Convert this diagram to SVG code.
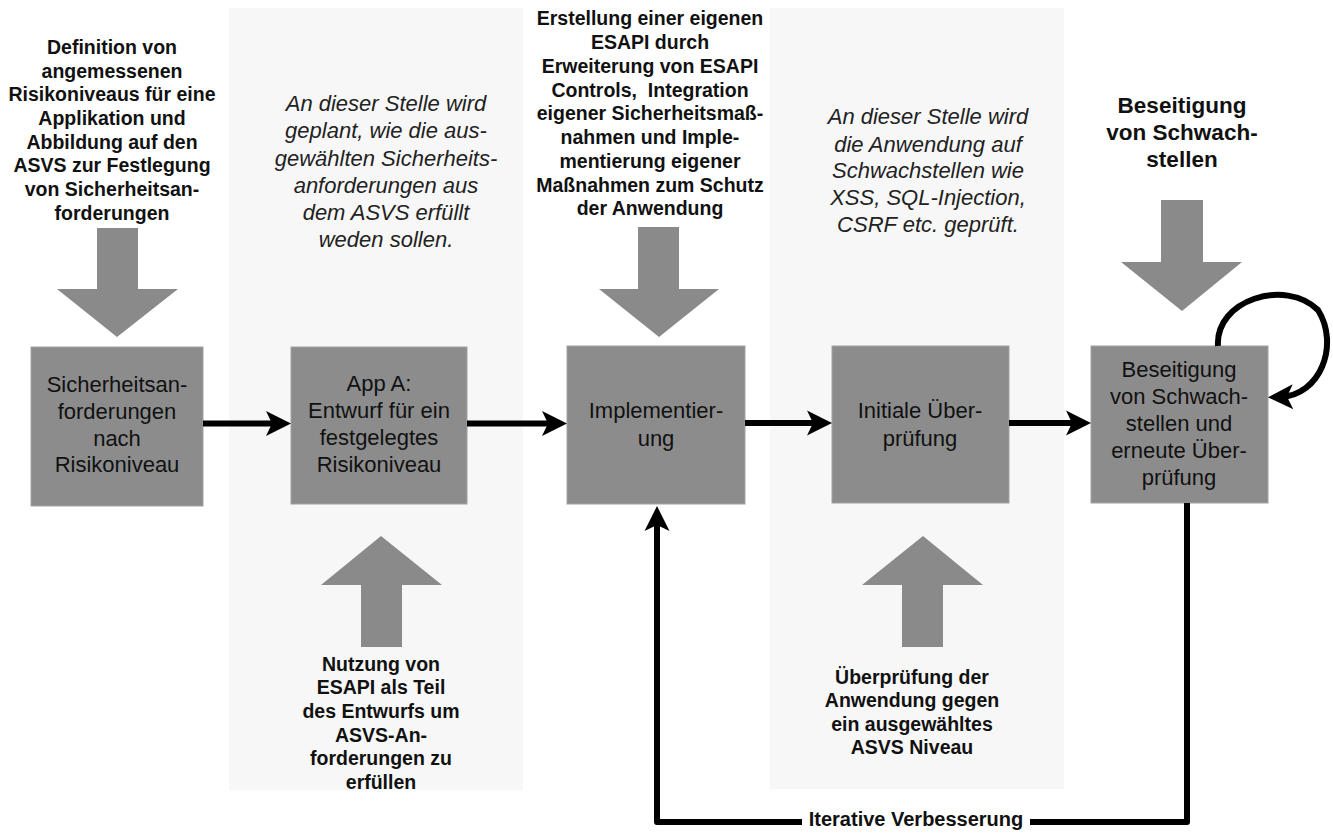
<svg xmlns="http://www.w3.org/2000/svg" width="1333" height="834" viewBox="0 0 1333 834">
<defs>
<style>
.panel{fill:#f7f7f7}
.box{fill:#8c8c8c;stroke:#a2a2a2;stroke-width:1}
.blk{fill:#8a8a8a}
.bt{font-family:"Liberation Sans",Arial,sans-serif;font-weight:bold;font-size:19.5px;fill:#111;text-anchor:middle}
.bt2{font-family:"Liberation Sans",Arial,sans-serif;font-weight:bold;font-size:22.5px;fill:#111;text-anchor:middle}
.it{font-family:"Liberation Sans",Arial,sans-serif;font-style:italic;font-size:22px;fill:#222;text-anchor:middle}
.nt{font-family:"Liberation Sans",Arial,sans-serif;font-size:22px;fill:#111;text-anchor:middle}
.con{fill:none;stroke:#000;stroke-width:6;stroke-linejoin:round}
</style>
<marker id="ah" markerUnits="userSpaceOnUse" markerWidth="40" markerHeight="40" viewBox="-20 -20 40 40" refX="0" refY="0" orient="auto">
<path d="M12,0 L-13,-12.5 L-7,0 L-13,12.5 Z" fill="#000"/>
</marker>
</defs>
<rect width="1333" height="834" fill="#fff"/>
<rect class="panel" x="229" y="8" width="294" height="782"/>
<rect class="panel" x="770" y="8" width="294" height="781"/>

<g id="note-definition">
<text class="bt" x="112"><tspan x="112" y="54">Definition von</tspan><tspan x="112" y="78">angemessenen</tspan><tspan x="112" y="101">Risikoniveaus für eine</tspan><tspan x="112" y="125">Applikation und</tspan><tspan x="112" y="149">Abbildung auf den</tspan><tspan x="112" y="172">ASVS zur Festlegung</tspan><tspan x="112" y="196">von Sicherheitsan-</tspan><tspan x="112" y="220">forderungen</tspan></text>
<path class="blk" d="M97,228 H138 V289 H178 L117,337 L57,289 H97 Z"/>
</g>
<g id="note-planung">
<text class="it"><tspan x="386" y="111">An dieser Stelle wird</tspan><tspan x="386" y="138">geplant, wie die aus-</tspan><tspan x="386" y="166">gewählten Sicherheits-</tspan><tspan x="386" y="193">anforderungen aus</tspan><tspan x="386" y="220">dem ASVS erfüllt</tspan><tspan x="386" y="247">weden sollen.</tspan></text>
</g>
<g id="note-esapi-eigen">
<text class="bt"><tspan x="650" y="25">Erstellung einer eigenen</tspan><tspan x="650" y="49">ESAPI durch</tspan><tspan x="650" y="73">Erweiterung von ESAPI</tspan><tspan x="650" y="97">Controls,&#160; Integration</tspan><tspan x="650" y="120">eigener Sicherheitsmaß-</tspan><tspan x="650" y="144">nahmen und Imple-</tspan><tspan x="650" y="168">mentierung eigener</tspan><tspan x="650" y="192">Maßnahmen zum Schutz</tspan><tspan x="650" y="215">der Anwendung</tspan></text>
<path class="blk" d="M638,227 H679 V289 H719 L659,337 L599,289 H638 Z"/>
</g>
<g id="note-pruefung">
<text class="it"><tspan x="928" y="124">An dieser Stelle wird</tspan><tspan x="928" y="152">die Anwendung auf</tspan><tspan x="928" y="178">Schwachstellen wie</tspan><tspan x="928" y="205">XSS, SQL-Injection,</tspan><tspan x="928" y="232">CSRF etc. geprüft.</tspan></text>
</g>
<g id="note-beseitigung">
<text class="bt2"><tspan x="1182" y="113">Beseitigung</tspan><tspan x="1182" y="140">von Schwach-</tspan><tspan x="1182" y="167">stellen</tspan></text>
<path class="blk" d="M1161,200 H1203 V262 H1242 L1182,311 L1121,262 H1161 Z"/>
</g>
<g id="note-esapi-nutzung">
<path class="blk" d="M381,536 L442,585 H402 V647 H361 V585 H321 Z"/>
<text class="bt"><tspan x="381" y="671">Nutzung von</tspan><tspan x="381" y="694">ESAPI als Teil</tspan><tspan x="381" y="718">des Entwurfs um</tspan><tspan x="381" y="742">ASVS-An-</tspan><tspan x="381" y="765">forderungen zu</tspan><tspan x="381" y="789">erfüllen</tspan></text>
</g>
<g id="note-asvs-niveau">
<path class="blk" d="M923,536 L983,585 H943 V647 H902 V585 H862 Z"/>
<text class="bt"><tspan x="912" y="684">Überprüfung der</tspan><tspan x="912" y="707">Anwendung gegen</tspan><tspan x="912" y="731">ein ausgewähltes</tspan><tspan x="912" y="754">ASVS Niveau</tspan></text>
</g>

<g id="node-anforderungen">
<rect class="box" x="31" y="347" width="172" height="159"/>
<text class="nt"><tspan x="117" y="392">Sicherheitsan-</tspan><tspan x="117" y="419">forderungen</tspan><tspan x="117" y="446">nach</tspan><tspan x="117" y="472">Risikoniveau</tspan></text>
</g>
<g id="node-entwurf">
<rect class="box" x="291" y="347" width="176" height="157"/>
<text class="nt"><tspan x="379" y="391">App A:</tspan><tspan x="379" y="418">Entwurf für ein</tspan><tspan x="379" y="445">festgelegtes</tspan><tspan x="379" y="472">Risikoniveau</tspan></text>
</g>
<g id="node-implementierung">
<rect class="box" x="567" y="346" width="178" height="158"/>
<text class="nt"><tspan x="656" y="418">Implementier-</tspan><tspan x="656" y="446">ung</tspan></text>
</g>
<g id="node-initial">
<rect class="box" x="832" y="346" width="177" height="157"/>
<text class="nt"><tspan x="920" y="418">Initiale Über-</tspan><tspan x="920" y="446">prüfung</tspan></text>
</g>
<g id="node-beseitigung">
<rect class="box" x="1091" y="346" width="177" height="157"/>
<text class="nt"><tspan x="1179" y="377">Beseitigung</tspan><tspan x="1179" y="404">von Schwach-</tspan><tspan x="1179" y="431">stellen und</tspan><tspan x="1179" y="458">erneute Über-</tspan><tspan x="1179" y="485">prüfung</tspan></text>
</g>

<g id="connectors">
<path class="con" d="M203,423.5 H279" marker-end="url(#ah)"/>
<path class="con" d="M467,423.5 H555" marker-end="url(#ah)"/>
<path class="con" d="M745,423 H820" marker-end="url(#ah)"/>
<path class="con" d="M1009,423 H1079" marker-end="url(#ah)"/>
<path class="con" stroke-width="5" d="M1218,346 C1215,300 1285,278 1318,310 C1340,345 1320,396 1280,397" marker-end="url(#ah)"/>
<path class="con" d="M1187,503 V822 H1030"/>
<path class="con" d="M802,822 H657 V518" marker-end="url(#ah)"/>
<text class="bt" style="font-size:20px" x="916" y="826">Iterative Verbesserung</text>
</g>
</svg>
